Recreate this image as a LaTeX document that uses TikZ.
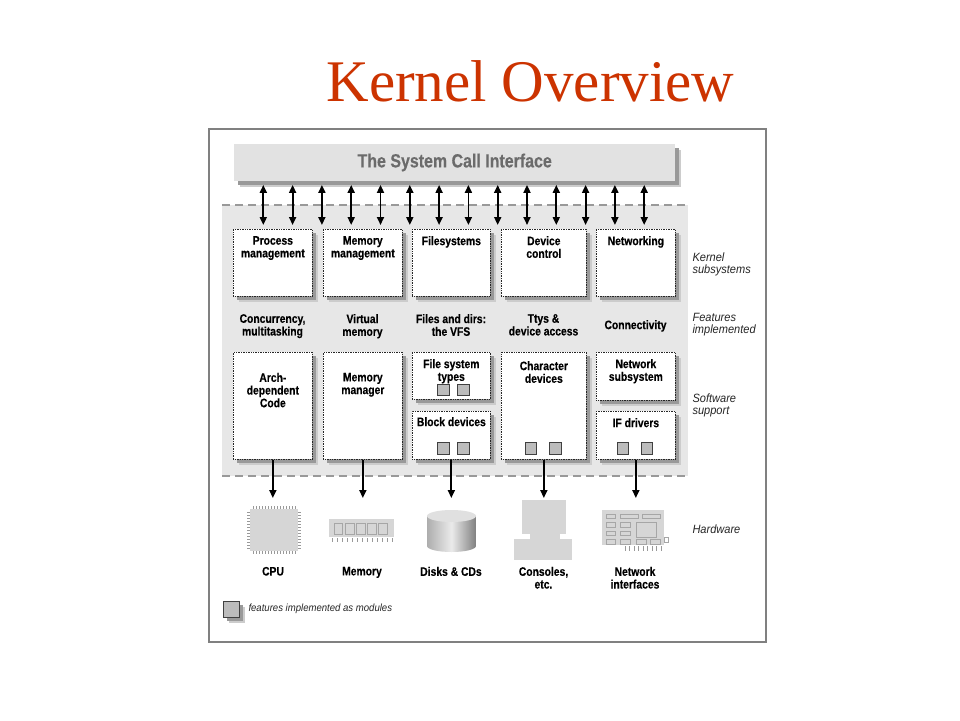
\documentclass[tikz,border=0pt]{standalone}
\usepackage{fontspec}
\setmainfont{Liberation Serif}
\newfontfamily\narrowsans[FakeStretch=0.84, BoldFeatures={FakeBold=0.3}]{Liberation Sans}
\newfontfamily\slimsans[FakeStretch=0.92]{Liberation Sans}
\usetikzlibrary{arrows.meta,shadows}
\definecolor{titlered}{RGB}{204,51,0}
\definecolor{kernelgray}{RGB}{231,231,231}
\definecolor{bargray}{RGB}{226,226,226}
\definecolor{hwgray}{RGB}{214,214,214}
\definecolor{modgray}{RGB}{188,188,188}
\tikzset{
	boxshadow/.style={general shadow={fill=black!20, shadow xshift=6pt, shadow yshift=-6pt},
		general shadow={fill=black!40, shadow xshift=4pt, shadow yshift=-4pt}},
	subbox/.style={draw=black!85, densely dotted, line width=0.7pt, fill=white, anchor=north west, inner sep=0pt, boxshadow},
	boxtext/.style={anchor=north, inner sep=0pt, align=center, font=\narrowsans\bfseries\fontsize{12.3}{12.7}\selectfont},
	sidetext/.style={anchor=north west, inner sep=0pt, align=left, text=black!85, font=\slimsans\itshape\fontsize{12}{12}\selectfont},
	modsq/.style={draw=black!75, fill=modgray, line width=0.8pt, minimum size=11.5pt, inner sep=0pt},
	callarrow/.style={{Triangle[length=8pt,width=7pt]}-{Triangle[length=8pt,width=7pt]}, line width=1.8pt},
	hwarrow/.style={-{Triangle[length=8pt,width=7pt]}, line width=1.8pt},
	kdash/.style={draw=black!40, line width=1.2pt, dash pattern=on 8pt off 5pt},
	hwbody/.style={fill=hwgray, inner sep=0pt},
	chippin/.style={draw=black!40, line width=0.6pt},
	chipline/.style={draw=black!35, line width=0.6pt},
}

\begin{document}
\begin{tikzpicture}[x=1pt, y=-1pt]
			%%%%% START %%%%%
			
			\fill[white] (0,0) rectangle (960,720);
			\useasboundingbox (0,0) rectangle (960,720);
			
			\node[anchor=base, text=titlered, font=\fontsize{59}{60}\selectfont] (title) at (530.5,101) {Kernel Overview};
			
			\draw[black!50, line width=1.6pt] (209,129) rectangle (766,642);
			
			\node[anchor=north west, minimum width=441, minimum height=36.5, fill=bargray, inner sep=0pt, boxshadow, text=black!58, font=\narrowsans\bfseries\fontsize{19}{19}\selectfont] (sci) at (234,144) {The System Call Interface};
			
			\fill[kernelgray] (222,205) rectangle (688,476);
			\draw[kdash] (222,205) -- (688,205);
			\draw[kdash] (222,476) -- (688,476);
			
			\node[subbox, minimum width=79, minimum height=67] (procm) at (233,229) {};
			\node[subbox, minimum width=79, minimum height=67] (memm) at (323,229) {};
			\node[subbox, minimum width=78, minimum height=67] (fsys) at (412,229) {};
			\node[subbox, minimum width=85, minimum height=67] (devc) at (501,229) {};
			\node[subbox, minimum width=79, minimum height=67] (netw) at (596,229) {};
			
			\node[boxtext] (procmt) at ([yshift=-7pt]procm.north) {Process\\management};
			\node[boxtext] (memmt) at ([yshift=-7pt]memm.north) {Memory\\management};
			\node[boxtext] (fsyst) at ([yshift=-7pt]fsys.north) {Filesystems};
			\node[boxtext] (devct) at ([yshift=-7pt]devc.north) {Device\\control};
			\node[boxtext] (netwt) at ([yshift=-7pt]netw.north) {Networking};
			
			\foreach \i in {0,...,13} {
				\coordinate (call\i) at (263.3+\i*29.3, 205);
				\draw[callarrow, shorten <=4pt, shorten >=4pt] (sci.south -| call\i) -- (procm.north -| call\i);
			}
			
			\node[boxtext] (featcpu) at (272.5,314) {Concurrency,\\multitasking};
			\node[boxtext] (featmem) at (362.5,314) {Virtual\\memory};
			\node[boxtext] (featvfs) at (451,314) {Files and dirs:\\the VFS};
			\node[boxtext] (feattty) at (543.5,314) {Ttys \&\\device access};
			\node[boxtext] (featnet) at (635.5,320) {Connectivity};
			
			\node[subbox, minimum width=79, minimum height=107] (arch) at (233,352) {};
			\node[subbox, minimum width=79, minimum height=107] (mmgr) at (323,352) {};
			\node[subbox, minimum width=78, minimum height=47] (fstyp) at (412,352) {};
			\node[subbox, minimum width=78, minimum height=48] (blkd) at (412,411) {};
			\node[subbox, minimum width=85, minimum height=107] (chrd) at (501,352) {};
			\node[subbox, minimum width=79, minimum height=48] (nets) at (596,352) {};
			\node[subbox, minimum width=79, minimum height=48] (ifdr) at (596,411) {};
			
			\node[boxtext] (archt) at ([yshift=-20.7pt]arch.north) {Arch-\\dependent\\Code};
			\node[boxtext] (mmgrt) at ([yshift=-20.7pt]mmgr.north) {Memory\\manager};
			\node[boxtext] (fstypt) at ([yshift=-7pt]fstyp.north) {File system\\types};
			\node[boxtext] (blkdt) at ([yshift=-6pt]blkd.north) {Block devices};
			\node[boxtext] (chrdt) at ([yshift=-9pt]chrd.north) {Character\\devices};
			\node[boxtext] (netst) at ([yshift=-7pt]nets.north) {Network\\subsystem};
			\node[boxtext] (ifdrt) at ([yshift=-7pt]ifdr.north) {IF drivers};
			
			\node[modsq] (fsm1) at (443.3,390) {};
			\node[modsq] (fsm2) at (463.2,390) {};
			\node[modsq] (blm1) at (443.3,448.3) {};
			\node[modsq] (blm2) at (463.2,448.3) {};
			\node[modsq] (chm1) at (530.8,448.2) {};
			\node[modsq] (chm2) at (555.2,448.2) {};
			\node[modsq] (ifm1) at (622.8,448.2) {};
			\node[modsq] (ifm2) at (647,448.2) {};
			
			\coordinate (hwtop) at (0,498);
			\foreach \b in {arch,mmgr,blkd,chrd,ifdr}
				\draw[hwarrow] (\b.south) -- (\b.south |- hwtop);
			
			\node[hwbody, minimum width=48, minimum height=42] (cpu) at (274,530) {};
			\foreach \k in {0,...,14} {
				\draw[chippin] (253+\k*3, 506) -- ++(0,3);
				\draw[chippin] (253+\k*3, 551) -- ++(0,3);
			}
			\foreach \k in {0,...,12} {
				\draw[chippin] (247, 512+\k*3) -- ++(3,0);
				\draw[chippin] (298, 512+\k*3) -- ++(3,0);
			}
			
			\node[hwbody, minimum width=65, minimum height=18] (mem) at (361.5,528) {};
			\foreach \k in {0,...,4}
				\draw[chipline] (334.3+\k*11.1, 523.5) rectangle ++(8.4,10.5);
			\foreach \k in {0,...,12}
				\draw[chippin] (332+\k*5, 538) -- ++(0,4);
			
			\shade[left color=black!32, right color=black!50, middle color=black!8] (427,516) -- (427,546) arc[start angle=180, end angle=0, x radius=24.5, y radius=6] -- (476,516) -- cycle;
			\fill[black!12] (451.5,516) ellipse [x radius=24.5, y radius=6];
			
			\fill[hwgray] (522,500) rectangle (566,534);
			\fill[hwgray] (530,534) rectangle (560,539);
			\fill[hwgray] (514,539) rectangle (572,560);
			
			\fill[hwgray] (602,510) rectangle (664,545);
			\draw[chipline, fill=white] (664,537) rectangle (668,542);
			\draw[chipline] (606.7,514) rectangle (615.7,518.5);
			\draw[chipline] (606.7,522.5) rectangle (615.7,527);
			\draw[chipline] (606.7,531) rectangle (615.7,535.5);
			\draw[chipline] (606.7,539.5) rectangle (615.7,544);
			\draw[chipline] (620.7,514) rectangle (638.3,518.5);
			\draw[chipline] (620.7,522.5) rectangle (630,527);
			\draw[chipline] (620.7,531) rectangle (630,535.5);
			\draw[chipline] (620.7,539.5) rectangle (630,544);
			\draw[chipline] (642,514) rectangle (660,518.5);
			\draw[chipline] (636.7,522.5) rectangle (656.7,537);
			\draw[chipline] (636.7,539.5) rectangle (646.7,544);
			\draw[chipline] (650.7,539.5) rectangle (660.7,544);
			\foreach \k in {0,...,8}
				\draw[chippin] (625+\k*4.5, 546) -- ++(0,5);
			
			\node[boxtext] (hwcpu) at (273,566.7) {CPU};
			\node[boxtext] (hwmem) at (362,566.7) {Memory};
			\node[boxtext] (hwdsk) at (451,566.7) {Disks \& CDs};
			\node[boxtext] (hwcon) at (543.5,566.7) {Consoles,\\etc.};
			\node[boxtext] (hwnet) at (635,566.7) {Network\\interfaces};
			
			\node[sidetext] (sidek) at (692.3,252.7) {Kernel\\subsystems};
			\node[sidetext] (sidef) at (692.3,313.3) {Features\\implemented};
			\node[sidetext] (sides) at (692.3,393.3) {Software\\support};
			\node[sidetext] (sideh) at (692.3,525) {Hardware};
			
			\node[modsq, minimum size=16, anchor=north west, boxshadow] (legsq) at (223,601) {};
			\node[sidetext, font=\slimsans\itshape\fontsize{10.4}{11}\selectfont] (legtxt) at (248.3,603.3) {features implemented as modules};
			
			%%%%% END %%%%%
\end{tikzpicture}
\end{document}
